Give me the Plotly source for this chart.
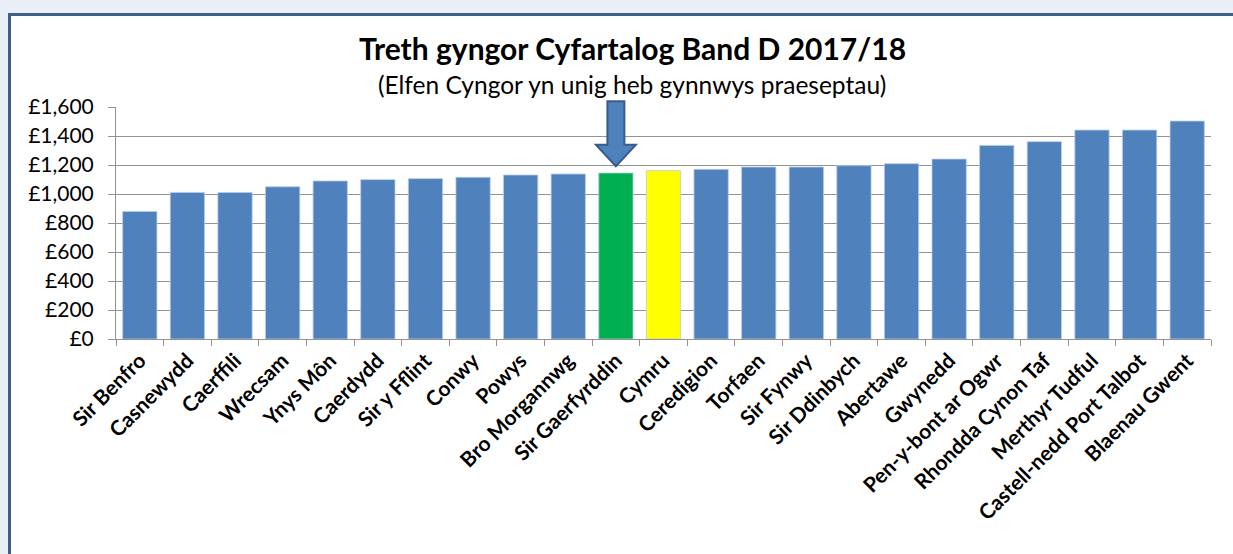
import plotly.graph_objects as go

categories = ["Sir Benfro", "Casnewydd", "Caerffili", "Wrecsam", "Ynys Môn", "Caerdydd",
              "Sir y Fflint", "Conwy", "Powys", "Bro Morgannwg", "Sir Gaerfyrddin", "Cymru",
              "Ceredigion", "Torfaen", "Sir Fynwy", "Sir Ddinbych", "Abertawe", "Gwynedd",
              "Pen-y-bont ar Ogwr", "Rhondda Cynon Taf", "Merthyr Tudful",
              "Castell-nedd Port Talbot", "Blaenau Gwent"]
values = [880, 1011, 1010, 1050, 1090, 1099, 1106, 1115, 1131, 1138, 1145, 1161,
          1170, 1186, 1186, 1195, 1209, 1241, 1335, 1361, 1441, 1441, 1503]
highlight = {"Sir Gaerfyrddin": "#00B050", "Cymru": "#FFFF00"}
base_color = "#4F81BD"
colors = [highlight.get(c, base_color) for c in categories]

W, H = 1233, 554
L, R, T, B = 116, 22, 107, 215
PW, PH = W - L - R, H - T - B


def px2paper_x(px):
    return (px - L) / PW


def px2paper_y(py):
    return (H - B - py) / PH


fig = go.Figure(go.Bar(
    x=categories, y=values,
    marker=dict(color=colors, line=dict(color="#B8CCE4", width=0.8)),
    hoverinfo="x+y",
))

shapes = []
# slide background white panel with dark blue border
shapes.append(dict(type="rect", xref="paper", yref="paper", layer="below",
                   x0=px2paper_x(9.5), x1=px2paper_x(W + 5),
                   y0=px2paper_y(H + 5), y1=px2paper_y(14.5),
                   fillcolor="white", line=dict(color="#3E5F8A", width=3)))

# arrow pointing at Sir Gaerfyrddin
idx = categories.index("Sir Gaerfyrddin")
n = len(categories)
cx = (idx + 0.5) / n
sw = 8.5 / PW
hw = 20 / PW
ytop = 1640 / 1600
yneck = 1340 / 1600
ytip = 1192 / 1600
path = (f"M {cx-sw},{ytop} L {cx+sw},{ytop} L {cx+sw},{yneck} L {cx+hw},{yneck} "
        f"L {cx},{ytip} L {cx-hw},{yneck} L {cx-sw},{yneck} Z")
shapes.append(dict(type="path", xref="paper", yref="paper", path=path,
                   fillcolor="#4F81BD", line=dict(color="#385D8A", width=2), layer="above"))

annotations = [
    dict(text="<b>Treth gyngor Cyfartalog Band D 2017/18</b>", xref="paper", yref="paper",
         x=px2paper_x(632), y=px2paper_y(48), showarrow=False,
         font=dict(family="Lato", size=30, color="black"), xanchor="center", yanchor="middle"),
    dict(text="(Elfen Cyngor yn unig heb gynnwys praeseptau)",
         xref="paper", yref="paper",
         x=px2paper_x(632), y=px2paper_y(84), showarrow=False,
         font=dict(family="Lato", size=24.5, color="black"), xanchor="center", yanchor="middle"),
]

fig.update_layout(
    width=W, height=H,
    margin=dict(l=L, r=R, t=T, b=B),
    paper_bgcolor="#EAEFF7",
    plot_bgcolor="white",
    bargap=0.28,
    showlegend=False,
    shapes=shapes,
    annotations=annotations,
    font=dict(family="Lato", color="black"),
)
fig.update_yaxes(range=[0, 1600], dtick=200, tickprefix="£", tickformat=",d",
                 showgrid=True, gridcolor="#939393", gridwidth=1,
                 showline=True, linecolor="#939393", linewidth=1,
                 ticks="outside", ticklen=7, tickcolor="#939393", ticklabelstandoff=10,
                 tickfont=dict(family="Lato", size=21, color="black"), zeroline=False)
fig.update_xaxes(tickangle=-45, tickson="boundaries", ticks="outside", ticklen=6,
                 tickcolor="#939393", showline=True, linecolor="#939393", linewidth=1,
                 tickfont=dict(family="Lato", size=21, color="black"),
                 tickprefix="<b>", ticksuffix="</b>")

fig.write_html("out.html", config={"displayModeBar": False},
               post_script="document.body.style.margin='0';")
